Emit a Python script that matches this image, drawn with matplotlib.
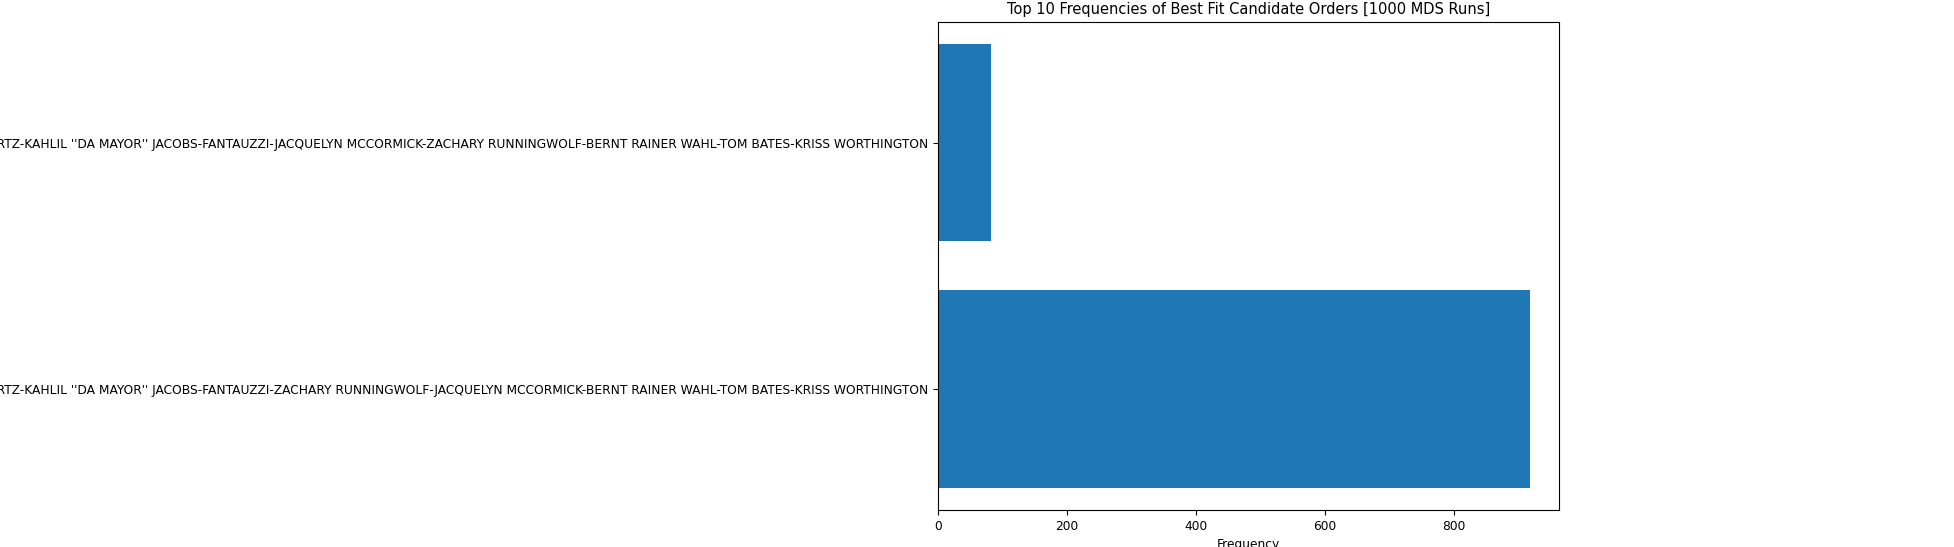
import matplotlib
matplotlib.use("Agg")
import matplotlib.pyplot as plt

orders = [
    "MARK SCHWARTZ-KAHLIL ''DA MAYOR'' JACOBS-FANTAUZZI-ZACHARY RUNNINGWOLF-JACQUELYN MCCORMICK-BERNT RAINER WAHL-TOM BATES-KRISS WORTHINGTON",
    "MARK SCHWARTZ-KAHLIL ''DA MAYOR'' JACOBS-FANTAUZZI-JACQUELYN MCCORMICK-ZACHARY RUNNINGWOLF-BERNT RAINER WAHL-TOM BATES-KRISS WORTHINGTON",
]
freqs = [917, 83]

plt.rcParams['font.size'] = 8.8
fig, ax = plt.subplots(figsize=(19.54, 5.47), dpi=100)
ax.barh(orders, freqs, color="#1f77b4")
ax.set_xlabel("Frequency")
ax.set_title("Top 10 Frequencies of Best Fit Candidate Orders [1000 MDS Runs]", fontsize=10.5)
fig.subplots_adjust(left=0.48, right=0.798, top=0.96, bottom=0.068)
fig.savefig("out.png", dpi=100)
